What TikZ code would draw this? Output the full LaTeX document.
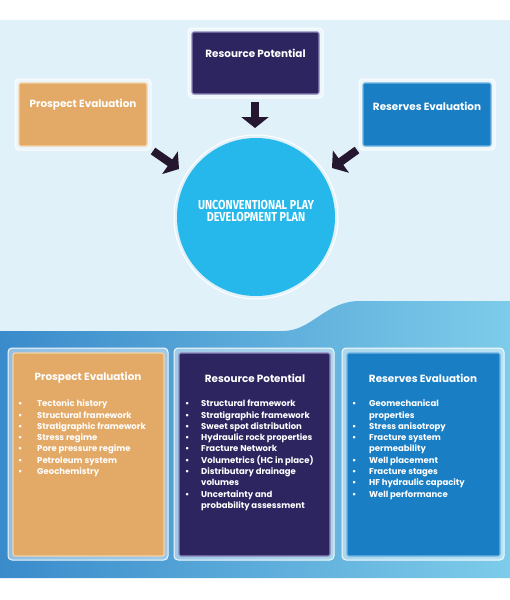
\documentclass[tikz,border=0pt]{standalone}
\usepackage{fontspec}
\setmainfont{Poppins}
\newfontfamily\circfont[FakeStretch=0.83]{Fira Sans}
\usetikzlibrary{arrows.meta}
\definecolor{bglight}{HTML}{E0F1F9}
\definecolor{bandL}{HTML}{3A8BCB}
\definecolor{bandR}{HTML}{7ECCEA}
\definecolor{orangeF}{HTML}{E3A966}
\definecolor{orangeB}{HTML}{F4D3A8}
\definecolor{purpleF}{HTML}{2D2560}
\definecolor{purpleB}{HTML}{8F86B8}
\definecolor{blueF}{HTML}{1A7EC4}
\definecolor{blueB}{HTML}{6FB3E3}
\definecolor{circF}{HTML}{26B8EA}
\definecolor{arrowC}{HTML}{25172F}
\tikzset{
  halo/.style={draw=white, line width=1pt, fill=white, fill opacity=0.45, draw opacity=0.9, rounded corners=4pt, inner sep=0pt},
  box/.style={draw=#1B, fill=#1F, line width=1.2pt, rounded corners=2pt, inner sep=0pt},
  title/.style={text=white, font=\bfseries\fontsize{10.4}{12}\selectfont, inner sep=0pt},
  item/.style={text=white, font=\bfseries\fontsize{8.5}{10}\selectfont, inner sep=0pt, anchor=base west},
  bigarrow/.style={draw=arrowC, line width=8pt, -{Triangle[length=11pt,width=27pt]}},
}
\begin{document}
\begin{tikzpicture}[x=1pt,y=-1pt]
\useasboundingbox (0,0) rectangle (510,600);
\fill[white] (0,0) rectangle (510,600);
\fill[bglight] (0,20) rectangle (510,578);
\shade[left color=bandL, right color=bandR]
  (0,331) -- (283,331) .. controls (312,331) and (325,301) .. (360,301) -- (510,301) -- (510,578) -- (0,578) -- cycle;

% top boxes
\node[halo, minimum width=135pt, minimum height=70pt] (rph) at (255.5,63) {};
\node[box=purple, minimum width=127pt, minimum height=62pt] (rp) at (255.5,63) {};
\node[title] (rpt) at (255.5,53) {Resource Potential};

\node[halo, minimum width=136pt, minimum height=71pt] (peh) at (83,114.5) {};
\node[box=orange, minimum width=128pt, minimum height=63pt] (pe) at (83,114.5) {};
\node[title] (pet) at (83,105) {Prospect Evaluation};

\node[halo, minimum width=136pt, minimum height=71pt] (reh) at (427,114.5) {};
\node[box=blue, minimum width=128pt, minimum height=63pt] (re) at (427,114.5) {};
\node[title] (ret) at (427,106) {Reserves Evaluation};

% circle
\node[circle, draw=white, line width=1pt, minimum size=164pt, inner sep=0pt] (ch) at (256,217) {};
\node[circle, fill=circF, minimum size=158pt, inner sep=0pt] (c) at (256,217) {};
\node[text=white, align=center, font=\circfont\bfseries\fontsize{13}{12.5}\selectfont, inner sep=0pt] (ct) at (256,211) {UNCONVENTIONAL PLAY\\DEVELOPMENT PLAN};

% arrows
\coordinate (a1s) at (255,102); \coordinate (a1e) at (255,128);
\coordinate (a2s) at (153,151); \coordinate (a2e) at (179,169);
\coordinate (a3s) at (357,150); \coordinate (a3e) at (332,168);
\draw[bigarrow] (a1s) -- (a1e);
\draw[bigarrow] (a2s) -- (a2e);
\draw[bigarrow] (a3s) -- (a3e);

% bottom boxes
\node[halo, minimum width=160pt, minimum height=212pt] (bpeh) at (88,454) {};
\node[box=orange, minimum width=151pt, minimum height=203pt] (bpe) at (88.5,454.5) {};
\node[title] (bpet) at (88,378) {Prospect Evaluation};

\node[halo, minimum width=160pt, minimum height=212pt] (brph) at (254,454) {};
\node[box=purple, minimum width=151pt, minimum height=203pt] (brp) at (254.5,454.5) {};
\node[title] (brpt) at (255,378) {Resource Potential};

\node[halo, minimum width=162pt, minimum height=212pt] (breh) at (423,454) {};
\node[box=blue, minimum width=153pt, minimum height=203pt] (bre) at (423.5,454.5) {};
\node[title] (bret) at (423,378) {Reserves Evaluation};

% lists
\foreach [count=\i] \t/\b in {Tectonic history/1, Structural framework/1, Stratigraphic framework/1, Stress regime/1, Pore pressure regime/1, Petroleum system/1, Geochemistry/1}{
  \node[item] (pel\i) at (37,{395.4+11.3*\i}) {\t};
  \node[item] (peb\i) at (18,{395.4+11.3*\i}) {\textbullet};
}
\foreach [count=\i] \t/\b in {Structural framework/1, Stratigraphic framework/1, Sweet spot distribution/1, Hydraulic rock properties/1, Fracture Network/1, Volumetrics (HC in place)/1, Distributary drainage/1, volumes/0, Uncertainty and/1, probability assessment/0}{
  \node[item] (rpl\i) at (201,{395.4+11.3*\i}) {\t};
  \ifnum\b=1 \node[item] (rpb\i) at (185,{395.4+11.3*\i}) {\textbullet};\fi
}
\foreach [count=\i] \t/\b in {Geomechanical/1, properties/0, Stress anisotropy/1, Fracture system/1, permeability/0, Well placement/1, Fracture stages/1, HF hydraulic capacity/1, Well performance/1}{
  \node[item] (rel\i) at (369,{395.4+11.3*\i}) {\t};
  \ifnum\b=1 \node[item] (reb\i) at (352,{395.4+11.3*\i}) {\textbullet};\fi
}
\end{tikzpicture}
\end{document}
